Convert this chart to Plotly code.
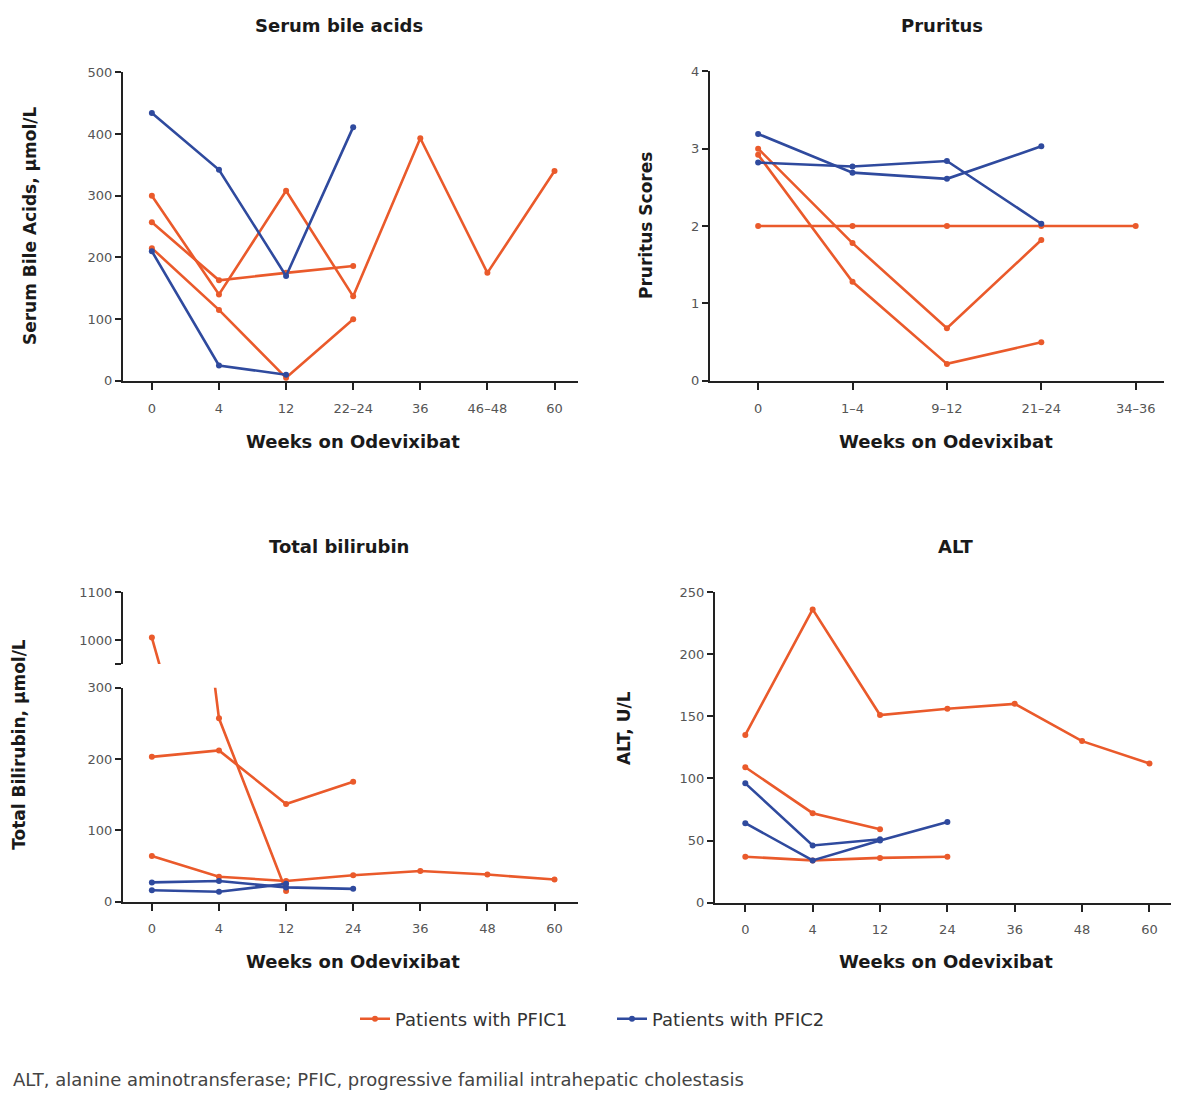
import plotly.graph_objects as go

# ---------------- data ----------------
weeks_sba = ["0", "4", "12", "22–24", "36", "46–48", "60"]
sba_pfic1 = [
    [300, 140, 308, 137, 393, 175, 340],
    [257, 163, 175, 186, None, None, None],
    [215, 115, 5, 100, None, None, None],
]
sba_pfic2 = [
    [434, 342, 170, 411, None, None, None],
    [210, 25, 10, None, None, None, None],
]

weeks_pru = ["0", "1–4", "9–12", "21–24", "34–36"]
pru_pfic1 = [
    [2.0, 2.0, 2.0, 2.0, 2.0],
    [3.0, 1.78, 0.68, 1.82, None],
    [2.92, 1.28, 0.22, 0.5, None],
]
pru_pfic2 = [
    [3.19, 2.69, 2.61, 3.03, None],
    [2.82, 2.77, 2.84, 2.03, None],
]

weeks_tb = ["0", "4", "12", "24", "36", "48", "60"]
tb_pfic1 = [
    [1005, 257, 15, None, None, None, None],
    [203, 212, 137, 168, None, None, None],
    [64, 35, 29, 37, 43, 38, 31],
]
tb_pfic2 = [
    [27, 29, 20, 18, None, None, None],
    [16, 14, 25, None, None, None, None],
]

weeks_alt = ["0", "4", "12", "24", "36", "48", "60"]
alt_pfic1 = [
    [135, 236, 151, 156, 160, 130, 112],
    [109, 72, 59, None, None, None, None],
    [37, 34, 36, 37, None, None, None],
]
alt_pfic2 = [
    [96, 46, 51, None, None, None, None],
    [64, 34, 50, 65, None, None, None],
]

groups = ["Patients with PFIC1", "Patients with PFIC2"]
colors = {"Patients with PFIC1": "#EA5A2B", "Patients with PFIC2": "#2F4A9E"}

# ---------------- layout helpers ----------------
W, H = 1182, 1094
FONT = "DejaVu Sans"
AX = "#222222"
TICKC = "#555555"


def px_x(p):
    return p / W


def px_y(p):
    return 1 - p / H


fig = go.Figure()

legend_shown = set()


def add_series(xcats, series_list, group, xa, ya):
    for vals in series_list:
        show = group not in legend_shown and xa == "x"
        if show:
            legend_shown.add(group)
        fig.add_trace(go.Scatter(
            x=xcats, y=vals, mode="lines+markers",
            line=dict(color=colors[group], width=2.6),
            marker=dict(color=colors[group], size=6),
            name=group, legendgroup=group, showlegend=show,
            connectgaps=False, xaxis=xa, yaxis=ya,
        ))


add_series(weeks_sba, sba_pfic1, groups[0], "x", "y")
add_series(weeks_sba, sba_pfic2, groups[1], "x", "y")
add_series(weeks_pru, pru_pfic1, groups[0], "x2", "y2")
add_series(weeks_pru, pru_pfic2, groups[1], "x2", "y2")
add_series(weeks_tb, tb_pfic1, groups[0], "x3", "y3")
add_series(weeks_tb, tb_pfic2, groups[1], "x3", "y3")
add_series(weeks_tb, tb_pfic1, groups[0], "x3", "y5")
add_series(weeks_alt, alt_pfic1, groups[0], "x4", "y4")
add_series(weeks_alt, alt_pfic2, groups[1], "x4", "y4")


def xaxis_cfg(dom, cats, rng, anchor):
    return dict(
        domain=[px_x(dom[0]), px_x(dom[1])], type="category",
        categoryorder="array", categoryarray=cats,
        range=rng, anchor=anchor,
        showline=True, linecolor=AX, linewidth=2,
        ticks="outside", ticklen=7, tickwidth=2, tickcolor=AX,
        tickfont=dict(family=FONT, size=13, color=TICKC),
        ticklabelstandoff=7,
        showgrid=False, zeroline=False, fixedrange=True,
    )


def yaxis_cfg(dom, rng, tickvals, ticktext, anchor):
    return dict(
        domain=[px_y(dom[1]), px_y(dom[0])], range=rng, anchor=anchor,
        tickmode="array", tickvals=tickvals, ticktext=ticktext,
        showline=True, linecolor=AX, linewidth=2,
        ticks="outside", ticklen=6, tickwidth=2, tickcolor=AX,
        tickfont=dict(family=FONT, size=13, color=TICKC),
        showgrid=False, zeroline=False, fixedrange=True,
    )


# panel positions (pixels)
L1, R1 = 115, 570
L2, R2 = 702, 1156
L4, R4 = 707, 1163
T1, B1 = 58, 371
B3 = 899

fig.update_layout(
    xaxis=xaxis_cfg((L1, R1), weeks_sba, [-0.43, 6.35], "y"),
    yaxis=yaxis_cfg((T1, B1), [0, 500], [0, 100, 200, 300, 400, 500],
                    ["0", "100", "200", "300", "400", "500"], "x"),
    xaxis2=xaxis_cfg((L2, R2), weeks_pru, [-0.51, 4.3], "y2"),
    yaxis2=yaxis_cfg((57, B1), [0, 4], [0, 1, 2, 3, 4],
                     ["0", "1", "2", "3", "4"], "x2"),
    xaxis3=xaxis_cfg((L1, R1), weeks_tb, [-0.43, 6.35], "y3"),
    yaxis3=yaxis_cfg((682, B3), [0, 300], [0, 100, 200, 300],
                     ["0", "100", "200", "300"], "x3"),
    yaxis5=yaxis_cfg((585, 658), [950, 1100], [950, 1000, 1100],
                     ["", "1000", "1100"], "x3"),
    xaxis4=xaxis_cfg((L4, R4), weeks_alt, [-0.45, 6.32], "y4"),
    yaxis4=yaxis_cfg((585, 900), [0, 250], [0, 50, 100, 150, 200, 250],
                     ["0", "50", "100", "150", "200", "250"], "x4"),
)

# caps of the broken axis (inner side of the tick marks)
fig.update_layout(
    yaxis6=dict(overlaying="y5", anchor="x3", side="left", range=[950, 1100],
                tickmode="array", tickvals=[950], showticklabels=False,
                ticks="inside", ticklen=6, tickwidth=2, tickcolor=AX,
                showline=False, showgrid=False, zeroline=False, fixedrange=True),
    yaxis7=dict(overlaying="y3", anchor="x3", side="left", range=[0, 300],
                tickmode="array", tickvals=[300], showticklabels=False,
                ticks="inside", ticklen=6, tickwidth=2, tickcolor=AX,
                showline=False, showgrid=False, zeroline=False, fixedrange=True),
)

ann = []


def text(x, y, s, size, bold=True, angle=0, color="#1a1a1a", xanchor="center"):
    ann.append(dict(
        x=px_x(x), y=px_y(y), xref="paper", yref="paper", text=(f"<b>{s}</b>" if bold else s),
        showarrow=False, textangle=angle, xanchor=xanchor, yanchor="middle",
        font=dict(family=FONT, size=size, color=color),
    ))


# panel titles
text(331, 11, "Serum bile acids", 18)
text(934, 11, "Pruritus", 18)
text(331, 539, "Total bilirubin", 18)
text(947, 539, "ALT", 18)
# x titles
for cx, cy in [(345, 432), (938, 432), (345, 960), (938, 960)]:
    text(cx, cy, "Weeks on Odevixibat", 18)
# y titles
text(22, 214, "Serum Bile Acids, µmol/L", 17, angle=-90)
text(638, 214, "Pruritus Scores", 17, angle=-90)
text(11, 740, "Total Bilirubin, µmol/L", 17, angle=-90)
text(616, 723, "ALT, U/L", 17, angle=-90)
# footnote
text(3, 1079, "ALT, alanine aminotransferase; PFIC, progressive familial intrahepatic cholestasis",
     18, bold=False, color="#444444", xanchor="left")

fig.update_layout(
    annotations=ann,
    width=W, height=H,
    margin=dict(l=0, r=0, t=0, b=0),
    paper_bgcolor="white", plot_bgcolor="white",
    showlegend=True,
    legend=dict(orientation="h", x=px_x(604), y=px_y(1018), xanchor="center",
                yanchor="middle", font=dict(family=FONT, size=18, color="#333333"),
                entrywidth=212, entrywidthmode="pixels",
                bgcolor="rgba(0,0,0,0)"),
    font=dict(family=FONT),
)

fig.write_html("out.html")
